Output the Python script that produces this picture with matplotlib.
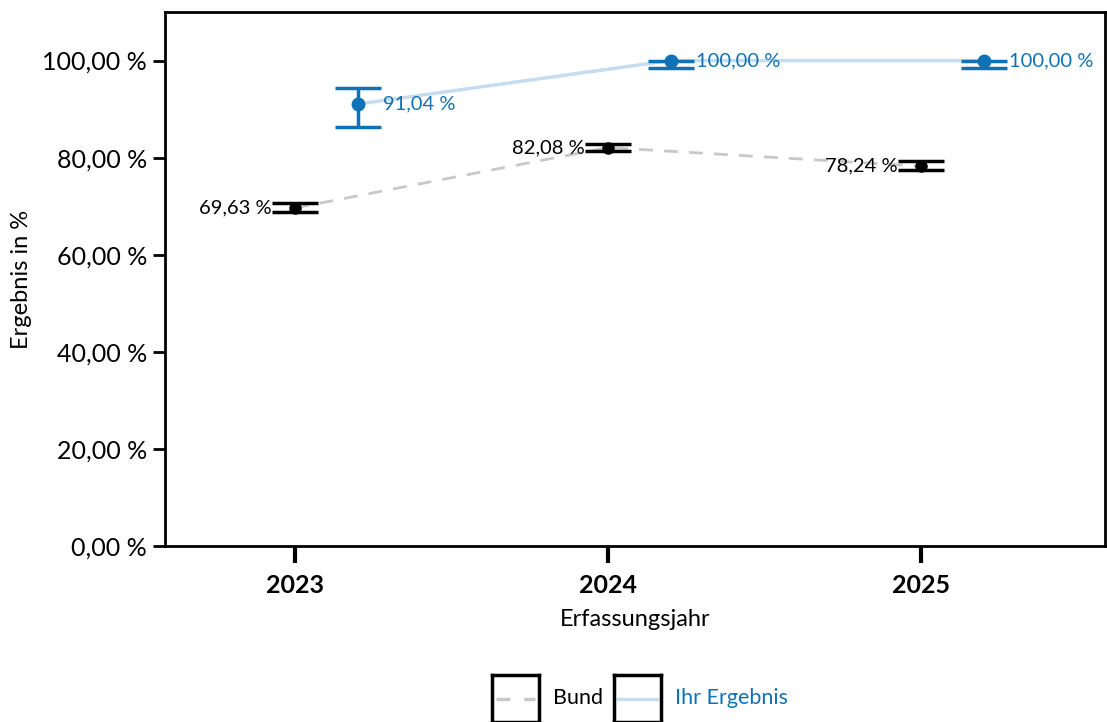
import matplotlib
matplotlib.use("Agg")
import matplotlib.pyplot as plt
import numpy as np

plt.rcParams['font.family'] = ['Lato', 'DejaVu Sans']

years = ["2023", "2024", "2025"]

# Bund
bund_values = [69.63, 82.08, 78.24]
bund_lower = [68.70, 81.30, 77.40]
bund_upper = [70.60, 82.90, 79.30]

# Ihr Ergebnis
ihr_values = [91.04, 100.00, 100.00]
ihr_lower = [86.40, 98.50, 98.40]
ihr_upper = [94.40, 100.00, 100.00]

BLUE = "#0f72b6"
LIGHT_BLUE = "#c6ddef"
GRAY = "#c8c8c8"


def fmt(v):
    return f"{v:.2f}".replace(".", ",") + " %"


fig = plt.figure(figsize=(11.07, 7.22), dpi=100)
ax = fig.add_axes([165 / 1107, 1 - 546 / 722, 940 / 1107, 534 / 722])

x = np.arange(len(years))
offset = 0.2

# lines
ax.plot(x, bund_values, color=GRAY, lw=2, dashes=(5, 4), zorder=1)
ax.plot(x + offset, ihr_values, color=LIGHT_BLUE, lw=2.5, zorder=1)

# error bars (capsize in points: 23 px half width)
b_err = [np.array(bund_values) - np.array(bund_lower), np.array(bund_upper) - np.array(bund_values)]
i_err = [np.array(ihr_values) - np.array(ihr_lower), np.array(ihr_upper) - np.array(ihr_values)]
ax.errorbar(x, bund_values, yerr=b_err, fmt="o", color="black", ms=8,
            elinewidth=2.5, capsize=16.5, capthick=2.5, zorder=3)
ax.errorbar(x + offset, ihr_values, yerr=i_err, fmt="o", color=BLUE, ms=9,
            elinewidth=2.5, capsize=16.5, capthick=2.5, zorder=3)

# data labels
for xi, v in zip(x, bund_values):
    ax.annotate(fmt(v), (xi, v), xytext=(-17, 0), textcoords="offset points",
                ha="right", va="center", fontsize=14.5, color="black")
for xi, v in zip(x + offset, ihr_values):
    ax.annotate(fmt(v), (xi, v), xytext=(18.5, 0), textcoords="offset points",
                ha="left", va="center", fontsize=14.5, color=BLUE)

ax.set_xlim(-0.415, 2.588)
ax.set_ylim(0, 110)
ax.set_xticks(x)
ax.set_xticklabels(years, fontsize=18, fontweight="bold")
ax.set_yticks(np.arange(0, 101, 20))
ax.set_yticklabels([fmt(v) for v in np.arange(0, 101, 20)], fontsize=18)
ax.tick_params(axis="y", length=9, width=2, pad=4)
ax.tick_params(axis="x", length=12, width=3, pad=8)
for s in ax.spines.values():
    s.set_linewidth(2)

ax.set_xlabel("Erfassungsjahr", fontsize=17)
ax.set_ylabel("Ergebnis in %", fontsize=17)
ax.xaxis.set_label_coords(0.5, -(620 - 546) / 534)
ax.yaxis.set_label_coords(-(165 - 22) / 940, 0.5)
ax.xaxis.label.set_va("center")
ax.yaxis.label.set_va("center")

# legend boxes
def legend_box(x0, color, dashed, label, tcolor, tx):
    lax = fig.add_axes([x0 / 1107, 0, 47 / 1107, 47 / 722])
    lax.set_xlim(0, 1)
    lax.set_ylim(0, 1)
    lax.set_xticks([])
    lax.set_yticks([])
    for s in lax.spines.values():
        s.set_linewidth(2.5)
    if dashed:
        lax.plot([0.08, 0.92], [0.5, 0.5], color=color, lw=2.5, dashes=(4, 4))
    else:
        lax.plot([0.08, 0.92], [0.5, 0.5], color=color, lw=2.5)
    fig.text(tx / 1107, 1 - 698 / 722, label, fontsize=15.5, color=tcolor,
             ha="left", va="center")

legend_box(492, GRAY, True, "Bund", "black", 553)
legend_box(614, LIGHT_BLUE, False, "Ihr Ergebnis", BLUE, 675)

fig.savefig("out.png", dpi=100)
